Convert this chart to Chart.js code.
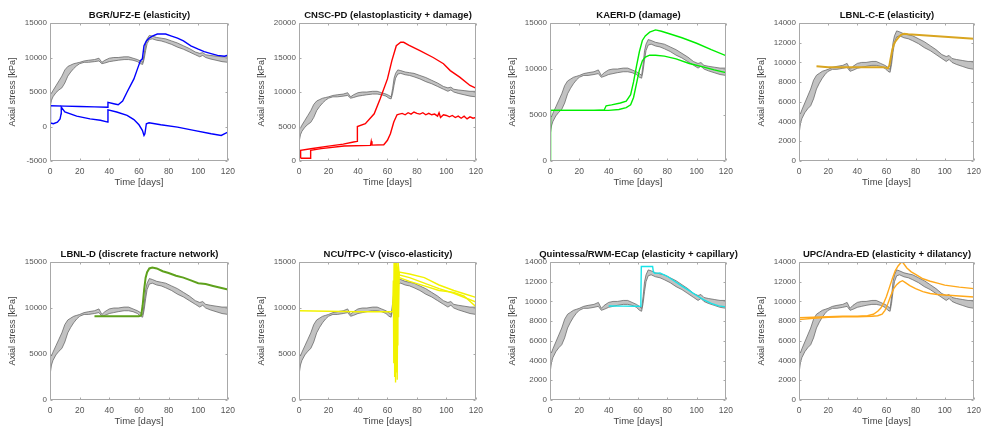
<!DOCTYPE html>
<html>
<head>
<meta charset="utf-8">
<script src="https://cdn.jsdelivr.net/npm/chart.js@4.4.1/dist/chart.umd.min.js"></script>
<style>
  body { margin: 0; background: #fff; width: 982px; height: 429px; position: relative; overflow: hidden; font-family: "Liberation Sans", Arial, sans-serif; }
  .ttl { position: absolute; font-weight: bold; font-size: 9.5px; line-height: 11px; white-space: nowrap; color: #111; transform: translateX(-50%); }
</style>
</head>
<body>
<script>
// experimental band (grey envelope, same in every panel)
const expTime = [0, 1, 2, 4, 6, 8, 10, 12, 14, 16, 18, 20, 23, 26, 30, 33, 35, 37, 40, 43, 46, 50, 53, 56, 59, 61, 62.5, 63.5, 64.5, 65.5, 67, 69, 72, 75, 78, 82, 86, 90, 94, 98, 101, 103, 105, 108, 112, 116, 120];
const expLow = [2700, 3800, 4300, 4900, 5300, 5600, 6300, 7300, 7900, 8400, 8800, 9100, 9300, 9300, 9400, 9500, 9100, 9200, 9400, 9500, 9600, 9700, 9700, 9600, 9400, 9100, 9000, 9800, 11000, 12000, 12600, 12700, 12500, 12400, 12200, 11900, 11500, 11200, 10800, 10400, 10100, 10300, 10000, 9800, 9600, 9400, 9300];
const expHigh = [5000, 4800, 5200, 5900, 6600, 7300, 8200, 8700, 8900, 9100, 9200, 9300, 9500, 9600, 9700, 9900, 9300, 9600, 9900, 10000, 10000, 10100, 10100, 9900, 9700, 9500, 9300, 10500, 12000, 12700, 13200, 13100, 12900, 12800, 12700, 12400, 12100, 11700, 11300, 10800, 10600, 10700, 10400, 10300, 10200, 10100, 10100];

// BGR/UFZ-E
const bgrTimeA = [0, 10, 20, 30, 39, 39.1, 43, 46, 49, 52, 56.6, 59, 61, 62.3, 63.4, 65, 66.8, 69, 72.4, 78, 82, 86, 90, 95, 100, 104, 108, 113, 117.7, 120];
const bgrStressA = [3000, 2950, 2900, 2850, 2800, 3500, 3300, 3150, 3700, 5000, 6900, 8350, 9550, 9800, 11700, 12400, 12800, 13100, 13400, 13400, 13100, 12800, 12400, 11700, 11200, 10850, 10600, 10300, 10180, 10350];
const bgrTimeB = [0, 0.3, 2.3, 5, 6.8, 7.5, 7.6, 10, 18, 27, 34, 39, 39.1, 45, 52, 56.6, 60, 62.3, 63.4, 64, 65, 66.8, 74.7, 86, 97, 108.7, 115.5, 120];
const bgrStressB = [3000, 500, 400, 640, 1100, 1850, 2800, 2100, 1500, 1100, 900, 640, 2400, 2100, 1600, 1000, 250, -560, -1300, -1050, 400, 540, 250, -90, -560, -1050, -1300, -800];

// CNSC-PD
const cnscTimeA = [1.1, 1.1, 8, 20, 30, 37, 39.5, 39.6, 45, 51, 55, 60, 63, 66, 69, 71, 74.4, 82, 91, 98, 102.6, 109, 116, 120];
const cnscStressA = [400, 1540, 1780, 2150, 2450, 2750, 2850, 5000, 5400, 6840, 9000, 11900, 14550, 16700, 17200, 17200, 16800, 16000, 15000, 14100, 13100, 12150, 10950, 10550];
const cnscTimeB = [1.1, 7.9, 7.9, 15, 30.5, 48.5, 49, 49.5, 57.5, 60, 62, 64.3, 66.5, 68, 70, 72, 74, 76, 78, 80, 82, 84, 86, 88, 90, 92, 94, 95, 96, 98, 100, 102, 104, 106, 108, 110, 112, 114, 116, 118, 120];
const cnscStressB = [400, 400, 1540, 1800, 2170, 2270, 2850, 2300, 2360, 3000, 3950, 5640, 6700, 6800, 6900, 6700, 7000, 6800, 7100, 6900, 6800, 7000, 6700, 6900, 6700, 6800, 6500, 7000, 6300, 6700, 6600, 6400, 6600, 6300, 6500, 6200, 6500, 6100, 6400, 6200, 6300];

// KAERI-D
const kaeriTimeA = [0, 0.3, 10, 20, 30, 37, 38.3, 42, 48, 52, 55, 57, 59, 61, 63, 65, 68, 72, 76, 82, 90, 100, 110, 120];
const kaeriStressA = [0, 5500, 5500, 5500, 5500, 5550, 6000, 6100, 6300, 6500, 7200, 8600, 10300, 11900, 13100, 13600, 14000, 14250, 14100, 13800, 13400, 12800, 12100, 11450];
const kaeriTimeB = [0, 0.3, 10, 20, 30, 40, 47, 52, 55, 57, 59, 61, 63, 65, 68, 72, 78, 86, 95, 105, 112, 120];
const kaeriStressB = [0, 5500, 5500, 5500, 5500, 5500, 5600, 5800, 6100, 6900, 8400, 9900, 10900, 11300, 11500, 11500, 11400, 11100, 10600, 10200, 9900, 9600];

// LBNL-C-E
const lbnlcTime = [12, 20, 30, 40, 50, 58, 60, 61, 62, 63, 64, 65, 66, 68, 70, 72, 75, 80, 90, 100, 110, 120];
const lbnlcStress = [9600, 9500, 9500, 9500, 9500, 9500, 9450, 9400, 9700, 10500, 11300, 11800, 12100, 12500, 12800, 12900, 12850, 12800, 12700, 12600, 12500, 12400];

// LBNL-D
const lbnldTime = [30, 40, 50, 60, 61.5, 62.5, 63.5, 64.5, 65.5, 67, 69, 72, 76, 80, 85, 90, 95, 100, 105, 110, 115, 120];
const lbnldStress = [9100, 9100, 9100, 9100, 9200, 10300, 12000, 13300, 13900, 14300, 14400, 14300, 14000, 13800, 13500, 13300, 13000, 12700, 12600, 12400, 12200, 12000];

// NCU/TPC-V
const ncuTimeA = [0, 20, 40, 60, 63.5, 64, 64.3, 64.6, 64.9, 65.2, 65.5, 65.8, 66.1, 66.4, 66.7, 67, 67.5, 68, 75, 85, 95, 105, 112, 120];
const ncuStressA = [9700, 9650, 9600, 9600, 9600, 13000, 4000, 15500, 2500, 16000, 1900, 15500, 3000, 15000, 6000, 14500, 9000, 13900, 13700, 13300, 12500, 11900, 11550, 11150];
const ncuTimeB = [64.2, 64.8, 65.4, 66, 66.6, 67.2, 68, 75, 85, 95, 105, 120];
const ncuStressB = [9600, 15500, 3500, 16000, 2200, 15000, 13600, 13300, 12700, 12100, 11600, 10650];
const ncuTimeC = [68, 75, 85, 95, 105, 112, 120];
const ncuStressC = [13300, 12900, 12400, 11900, 11700, 11300, 10150];

// Quintessa/RWM-ECap
const quinTime = [40, 50, 60, 61.5, 62, 62.3, 70, 70.5, 71.5, 75, 80, 85, 90, 95, 100, 105, 110, 115, 120];
const quinStress = [9530, 9520, 9510, 9500, 10500, 13550, 13550, 13000, 12850, 12900, 12550, 12050, 11550, 11100, 10600, 10150, 9800, 9550, 9450];

// UPC/Andra-ED
const upcTimeA = [0, 10, 20, 30, 40, 47, 51, 54, 56, 58, 60, 62, 64, 66, 68, 70, 71, 72, 74, 77, 80, 85, 90, 95, 100, 110, 120];
const upcStressA = [8350, 8400, 8450, 8500, 8500, 8550, 8700, 9000, 9300, 9800, 10500, 11400, 12300, 13100, 13600, 13950, 14000, 13800, 13400, 13000, 12750, 12300, 12050, 11850, 11650, 11450, 11300];
const upcTimeB = [0, 10, 20, 30, 40, 50, 54, 57, 59, 61, 63, 65, 67, 69, 71, 73, 76, 80, 85, 90, 95, 100, 110, 120];
const upcStressB = [8150, 8300, 8400, 8450, 8450, 8500, 8550, 8700, 9100, 9800, 10600, 11300, 11700, 11950, 12100, 11900, 11600, 11300, 11000, 10800, 10700, 10650, 10550, 10450];

const pts = (t, v) => t.map((x, i) => ({ x: x, y: v[i] }));

const panels = [
  { title: "BGR/UFZ-E (elasticity)", col: 0, row: 0, yMin: -5000, yMax: 15000, yStep: 5000, color: "#0000ff", lines: [[bgrTimeA, bgrStressA], [bgrTimeB, bgrStressB]] },
  { title: "CNSC-PD (elastoplasticity + damage)", col: 1, row: 0, yMin: 0, yMax: 20000, yStep: 5000, color: "#ff0000", lines: [[cnscTimeA, cnscStressA], [cnscTimeB, cnscStressB]] },
  { title: "KAERI-D (damage)", col: 2, row: 0, yMin: 0, yMax: 15000, yStep: 5000, color: "#00ee00", lines: [[kaeriTimeA, kaeriStressA], [kaeriTimeB, kaeriStressB]] },
  { title: "LBNL-C-E (elasticity)", col: 3, row: 0, yMin: 0, yMax: 14000, yStep: 2000, color: "#d9a520", width: 2, lines: [[lbnlcTime, lbnlcStress]] },
  { title: "LBNL-D (discrete fracture network)", col: 0, row: 1, yMin: 0, yMax: 15000, yStep: 5000, color: "#5ea11c", width: 2, lines: [[lbnldTime, lbnldStress]] },
  { title: "NCU/TPC-V (visco-elasticity)", col: 1, row: 1, yMin: 0, yMax: 15000, yStep: 5000, color: "#f2f200", lines: [[ncuTimeA, ncuStressA], [ncuTimeB, ncuStressB], [ncuTimeC, ncuStressC]] },
  { title: "Quintessa/RWM-ECap (elasticity + capillary)", col: 2, row: 1, yMin: 0, yMax: 14000, yStep: 2000, color: "#17e3e8", lines: [[quinTime, quinStress]] },
  { title: "UPC/Andra-ED (elasticity + dilatancy)", col: 3, row: 1, yMin: 0, yMax: 14000, yStep: 2000, color: "#ffa81a", lines: [[upcTimeA, upcStressA], [upcTimeB, upcStressB]] }
];

const colLeft = [50, 299, 550, 799];
const colRight = [229, 477, 727, 975];
const rowTop = [23, 262];
const rowBottom = [161, 400];
const YW = 43, XH = 27, PT = 8, PR = 12;

// matlab-like box with inward ticks
const axesBox = {
  id: "axesBox",
  afterDatasetsDraw(chart) {
    const { ctx, chartArea: a, scales: { x, y } } = chart;
    const l = Math.round(a.left) + 0.5, r = Math.round(a.right) - 0.5;
    const t = Math.round(a.top) + 0.5, b = Math.round(a.bottom) - 0.5;
    ctx.save();
    ctx.strokeStyle = "#a8a8a8";
    ctx.lineWidth = 1;
    ctx.beginPath();
    ctx.rect(l, t, r - l, b - t);
    x.ticks.forEach(tk => {
      const px = Math.round(x.getPixelForValue(tk.value)) + 0.5;
      ctx.moveTo(px, b); ctx.lineTo(px, b - 2);
      ctx.moveTo(px, t); ctx.lineTo(px, t + 2);
    });
    y.ticks.forEach(tk => {
      const py = Math.round(y.getPixelForValue(tk.value)) + 0.5;
      ctx.moveTo(l, py); ctx.lineTo(l + 2, py);
      ctx.moveTo(r, py); ctx.lineTo(r - 2, py);
    });
    ctx.stroke();
    ctx.restore();
  }
};

panels.forEach(p => {
  const left = colLeft[p.col], right = colRight[p.col];
  const top = rowTop[p.row], bottom = rowBottom[p.row];
  const w = YW + (right - left) + PR, h = PT + (bottom - top) + XH;

  const cv = document.createElement("canvas");
  cv.width = w; cv.height = h;
  cv.style.cssText = `position:absolute;left:${left - YW}px;top:${top - PT}px;width:${w}px;height:${h}px`;
  document.body.appendChild(cv);

  const ttl = document.createElement("div");
  ttl.className = "ttl";
  ttl.textContent = p.title;
  ttl.style.left = ((left + right) / 2) + "px";
  ttl.style.top = (top - 14) + "px";
  document.body.appendChild(ttl);

  const datasets = [
    { data: pts(expTime, expLow), borderColor: "#5a5a5a", borderWidth: 0.7, fill: false, order: 1 },
    { data: pts(expTime, expHigh), borderColor: "#5a5a5a", borderWidth: 0.7, backgroundColor: "#c2c2c2", fill: "-1", order: 1 }
  ];
  p.lines.forEach(ln => {
    datasets.push({ data: pts(ln[0], ln[1]), borderColor: p.color, borderWidth: p.width || 1.4, fill: false, order: 0 });
  });

  new Chart(cv, {
    type: "line",
    data: { datasets: datasets },
    options: {
      responsive: false,
      animation: false,
      layout: { padding: { top: PT, right: PR, left: 0, bottom: 0 } },
      plugins: { legend: { display: false }, tooltip: { enabled: false } },
      elements: { point: { radius: 0 }, line: { tension: 0 } },
      scales: {
        x: {
          type: "linear", min: 0, max: 120,
          ticks: { stepSize: 20, color: "#555", font: { size: 8.5 }, padding: 6, maxRotation: 0 },
          grid: { display: false, drawTicks: false },
          border: { display: false },
          title: { display: true, text: "Time [days]", color: "#444", font: { size: 9.5 }, padding: 0 },
          afterFit(s) { s.height = XH; }
        },
        y: {
          min: p.yMin, max: p.yMax,
          ticks: { stepSize: p.yStep, color: "#555", font: { size: 8 }, padding: 3, callback: v => String(v) },
          grid: { display: false, drawTicks: false },
          border: { display: false },
          title: { display: true, text: "Axial stress [kPa]", color: "#444", font: { size: 9 }, padding: 0 },
          afterFit(s) { s.width = YW; }
        }
      }
    },
    plugins: [axesBox]
  });
});
</script>
</body>
</html>
